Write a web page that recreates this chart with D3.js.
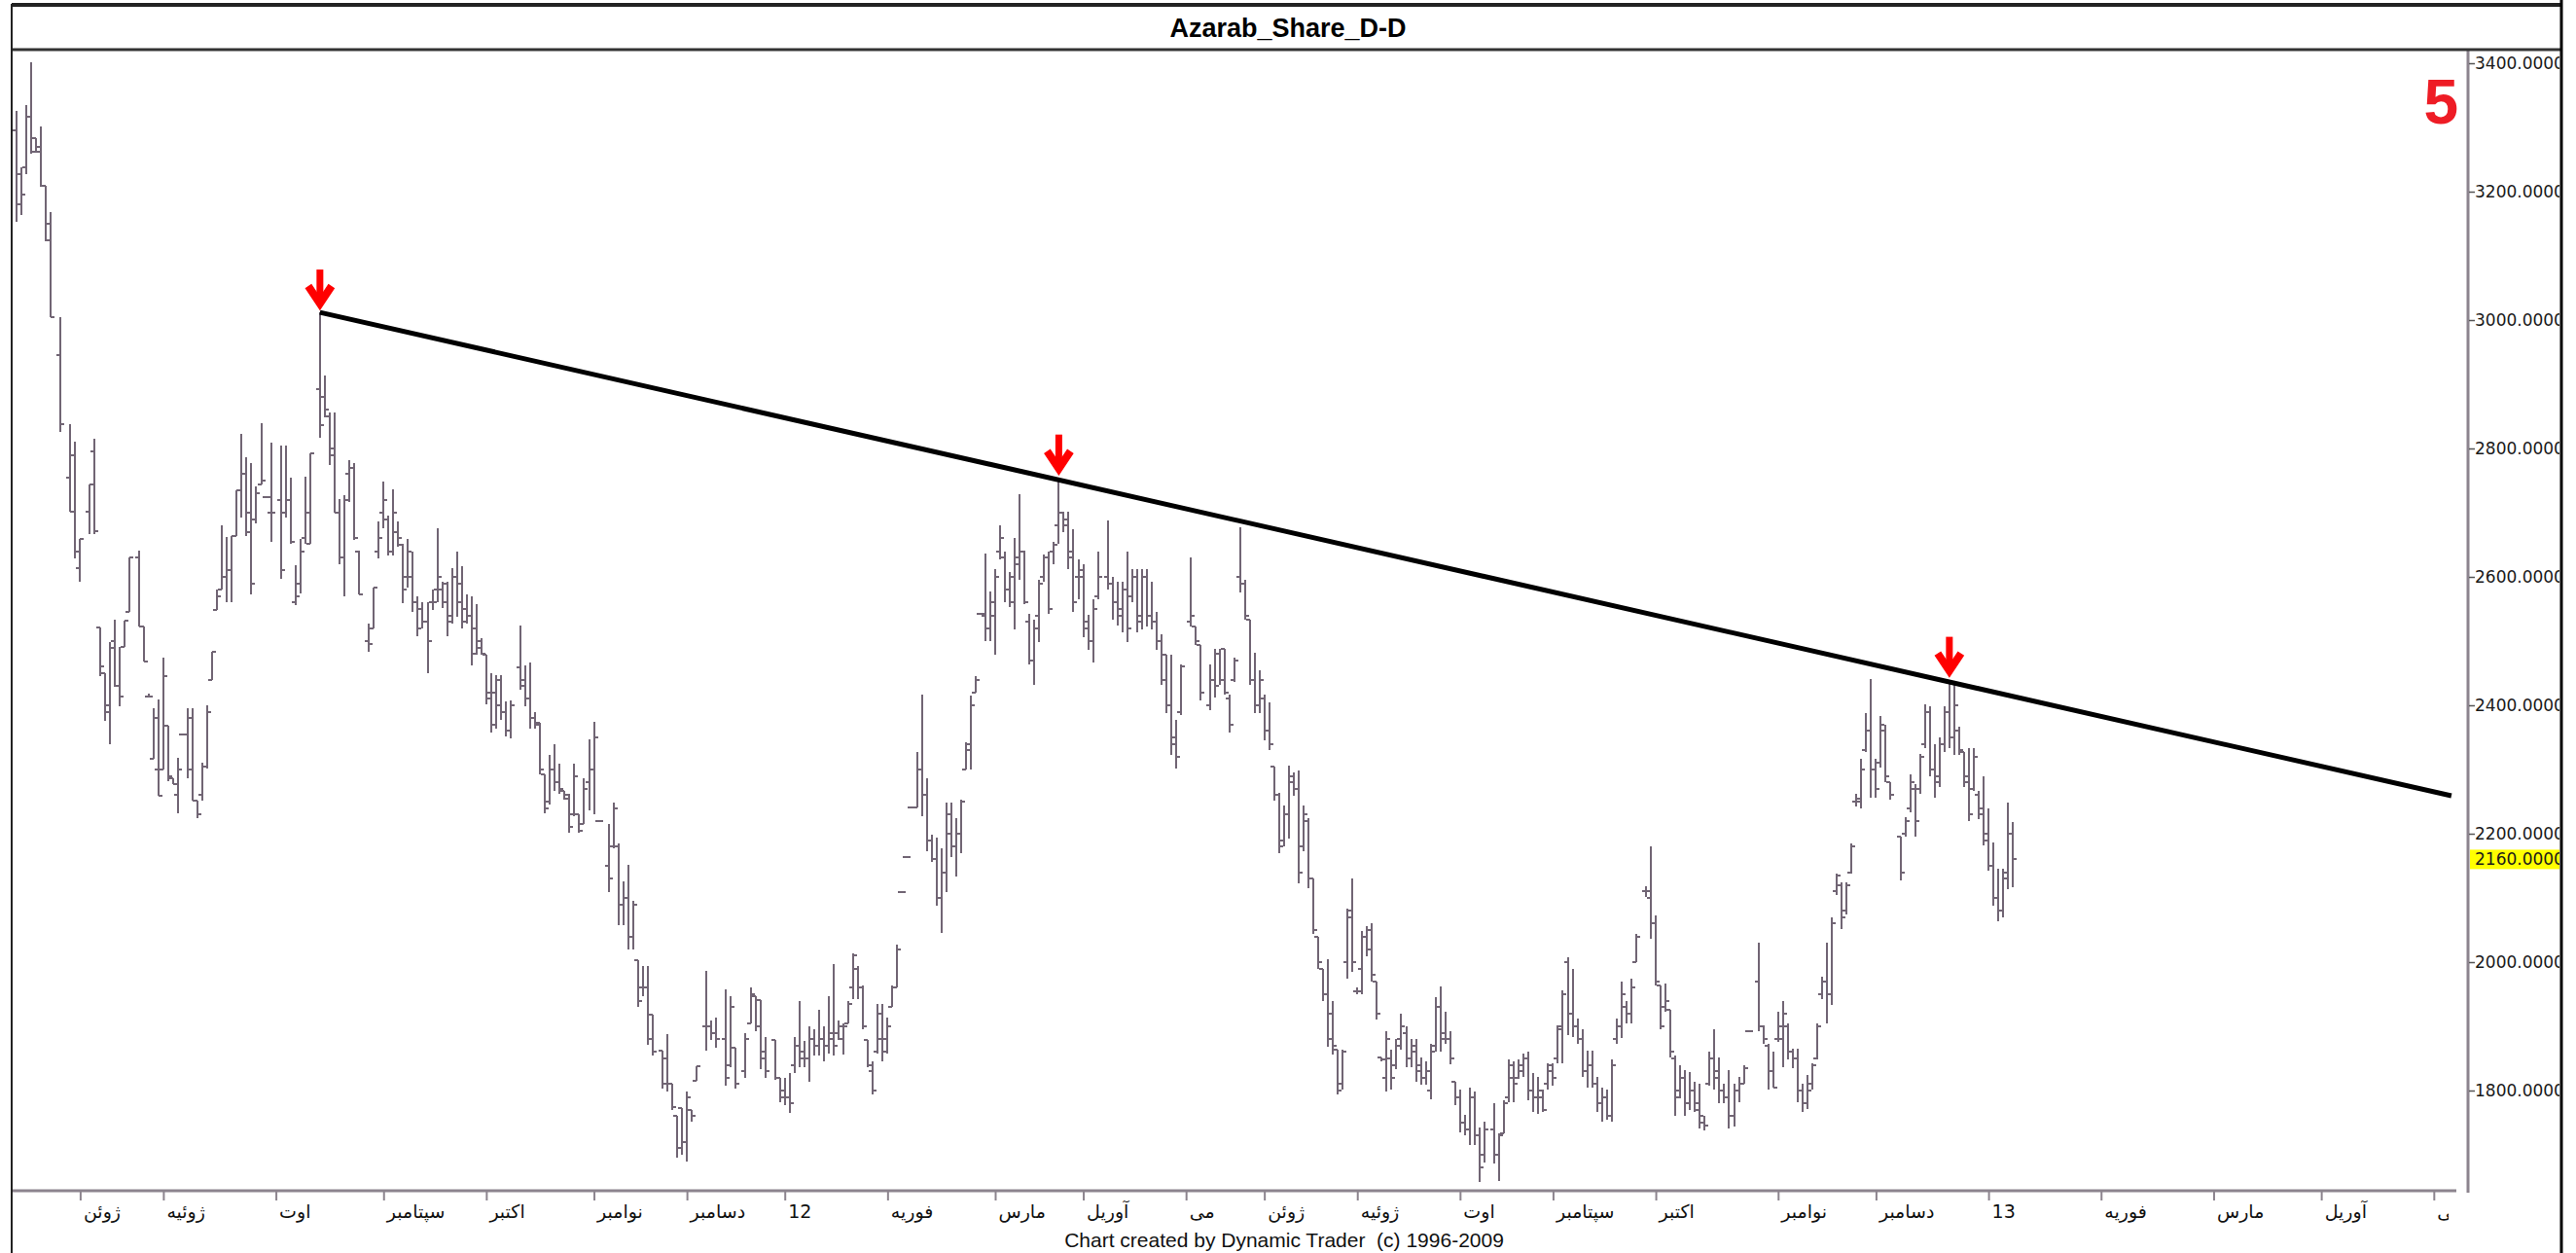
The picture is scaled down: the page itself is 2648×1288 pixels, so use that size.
<!DOCTYPE html>
<html><head><meta charset="utf-8">
<script src="https://cdn.jsdelivr.net/npm/d3@7"></script>
<style>html,body{margin:0;padding:0;background:#fff;overflow:hidden}</style>
</head><body>
<svg id="chart" width="2648" height="1288"></svg>
<script>
const chartTitle = "Azarab_Share_D-D";
const footerText = "Chart created by Dynamic Trader  (c) 1996-2009";
const waveLabel = "5";
const monthTickDays = [13, 30, 53, 75, 96, 118, 137, 157, 178, 200, 218, 239, 255, 274, 295, 314, 335, 360, 380, 403, 426, 449, 471, 494];
const monthLabels = ["ژوئن","ژوئیه","اوت","سپتامبر","اکتبر","نوامبر","دسامبر","12","فوریه","مارس","آوریل","می","ژوئن","ژوئیه","اوت","سپتامبر","اکتبر","نوامبر","دسامبر","13","فوریه","مارس","آوریل","می"];
const priceTicks = [1800, 2000, 2200, 2400, 2600, 2800, 3000, 3200, 3400];
const lastPrice = 2160;
const trendLine = [[62, 3012], [497.6, 2259]];
const arrowDays = [62, 213, 395];
// [day, open, high, low, close]
const ohlc = [
[0,3295,3326,3153,3180],[1,3228,3238,3164,3195],[2,3238,3335,3228,3316],[3,3316,3402,3259,3262],[4,3283,3283,3261,3262],
[5,3270,3301,3208,3209],[6,3209,3209,3123,3125],[7,3150,3168,3004,3004],[9,2945,3004,2826,2838],[11,2754,2838,2702,2702],
[12,2790,2811,2629,2640],[13,2614,2659,2592,2659],[15,2702,2744,2666,2744],[16,2795,2815,2667,2671],[17,2521,2521,2446,2460],
[18,2450,2450,2376,2390],[19,2400,2499,2340,2490],[20,2500,2534,2429,2430],[21,2430,2491,2398,2414],[22,2491,2532,2491,2532],
[23,2546,2630,2546,2630],[25,2630,2641,2522,2522],[26,2522,2522,2468,2468],[27,2414,2418,2412,2414],[28,2317,2396,2317,2380],
[29,2300,2409,2259,2259],[30,2300,2474,2300,2446],[31,2368,2368,2282,2290],[32,2286,2286,2277,2277],[33,2260,2318,2232,2300],
[34,2355,2355,2355,2355],[35,2355,2396,2286,2300],[36,2380,2395,2251,2251],[37,2251,2251,2224,2230],[38,2260,2310,2251,2305],
[39,2305,2400,2302,2390],[40,2439,2483,2439,2483],[41,2548,2580,2548,2570],[42,2581,2680,2581,2600],[43,2600,2662,2561,2610],
[44,2610,2663,2561,2663],[45,2663,2735,2663,2735],[46,2735,2823,2692,2760],[47,2760,2786,2663,2670],[48,2700,2778,2573,2590],
[49,2690,2741,2684,2730],[50,2744,2840,2744,2750],[51,2725,2725,2725,2725],[52,2700,2809,2655,2700],[54,2720,2805,2597,2610],
[55,2700,2805,2692,2720],[56,2720,2754,2651,2655],[57,2560,2618,2556,2570],[58,2590,2659,2575,2640],[59,2660,2756,2651,2700],
[60,2651,2792,2651,2792],[62,2893,3012,2817,2836],[63,2880,2914,2848,2860],[64,2850,2856,2774,2790],[65,2800,2856,2700,2700],
[66,2700,2721,2620,2630],[67,2630,2727,2569,2720],[68,2760,2782,2717,2770],[69,2770,2778,2657,2660],[70,2640,2641,2572,2572],
[72,2500,2528,2484,2495],[73,2520,2584,2520,2584],[74,2640,2686,2629,2660],[75,2700,2749,2676,2720],[76,2690,2696,2633,2640],
[77,2640,2737,2634,2700],[78,2670,2686,2647,2660],[79,2650,2651,2559,2580],[80,2600,2659,2584,2640],[81,2600,2640,2546,2560],
[82,2560,2569,2507,2520],[83,2550,2561,2520,2530],[84,2530,2561,2450,2500],[85,2560,2581,2548,2560],[86,2580,2676,2561,2600],
[87,2580,2593,2551,2590],[88,2560,2593,2507,2530],[89,2540,2614,2528,2600],[90,2600,2639,2538,2560],[91,2590,2616,2520,2530],
[92,2550,2573,2528,2540],[93,2540,2569,2462,2480],[94,2520,2557,2479,2490],[95,2500,2505,2479,2480],[96,2479,2479,2401,2410],
[97,2420,2450,2357,2370],[98,2420,2447,2364,2440],[99,2400,2447,2377,2390],[100,2390,2406,2351,2360],[101,2360,2408,2349,2400],
[103,2459,2524,2425,2430],[104,2440,2462,2398,2410],[105,2410,2466,2364,2380],[106,2380,2389,2364,2370],[107,2372,2372,2292,2300],
[108,2292,2292,2232,2240],[109,2250,2323,2245,2300],[110,2300,2340,2266,2280],[111,2280,2309,2262,2270],[112,2266,2266,2253,2260],
[113,2255,2262,2202,2210],[114,2230,2309,2228,2290],[115,2230,2230,2202,2205],[116,2215,2286,2215,2270],[117,2280,2347,2236,2300],
[118,2300,2374,2230,2350],[119,2219,2219,2219,2219],[121,2150,2215,2109,2130],[122,2180,2249,2177,2240],[123,2180,2185,2058,2090],
[124,2090,2126,2058,2100],[125,2100,2151,2020,2040],[126,2040,2096,2020,2090],[127,2003,2003,1930,1940],[128,1960,1994,1947,1960],
[129,1960,1994,1871,1880],[130,1918,1918,1854,1860],[132,1862,1862,1803,1810],[133,1850,1888,1799,1810],[134,1811,1811,1769,1775],
[135,1760,1760,1695,1710],[136,1773,1773,1700,1720],[137,1720,1799,1690,1790],[138,1770,1770,1752,1760],[139,1815,1838,1815,1838],
[141,1900,1986,1862,1900],[142,1900,1909,1879,1890],[143,1890,1913,1867,1880],[145,1880,1958,1807,1820],[146,1840,1947,1837,1930],
[147,1867,1867,1803,1810],[149,1830,1890,1820,1880],[150,1905,1960,1905,1950],[151,1947,1947,1892,1900],[152,1941,1941,1833,1850],
[153,1860,1883,1820,1830],[155,1879,1879,1816,1820],[156,1820,1820,1782,1790],[157,1800,1820,1777,1790],[158,1790,1828,1765,1780],
[159,1840,1883,1828,1870],[160,1870,1939,1837,1850],[161,1860,1877,1837,1850],[162,1850,1900,1813,1880],[163,1880,1896,1854,1870],
[164,1870,1926,1854,1880],[165,1880,1900,1845,1870],[166,1870,1947,1858,1880],[167,1890,1997,1854,1870],[168,1890,1909,1879,1900],
[169,1880,1905,1856,1900],[170,1905,1939,1905,1935],[171,1960,2014,1943,2010],[172,1990,1994,1943,1960],[173,1960,1964,1896,1900],
[174,1879,1879,1837,1840],[175,1830,1845,1794,1800],[176,1860,1935,1858,1920],[177,1880,1935,1845,1860],[178,1880,1913,1858,1900],
[179,1930,1964,1930,1960],[180,1960,2028,1960,2020],[181,2109,2109,2109,2109],[182,2164,2164,2164,2164],[183,2241,2241,2241,2241],
[184,2241,2328,2241,2300],[185,2300,2417,2228,2260],[186,2260,2287,2173,2190],[187,2190,2198,2156,2160],[188,2160,2194,2088,2100],
[189,2100,2177,2045,2140],[190,2140,2249,2109,2230],[191,2200,2249,2164,2180],[192,2180,2224,2134,2200],[193,2200,2253,2170,2250],
[194,2300,2343,2300,2340],[195,2330,2415,2300,2400],[196,2419,2446,2419,2440],[197,2542,2542,2542,2542],[198,2540,2636,2500,2520],
[199,2520,2578,2500,2560],[200,2540,2612,2479,2600],[201,2640,2680,2627,2660],[202,2630,2639,2561,2580],[203,2580,2608,2553,2600],
[204,2560,2660,2518,2620],[205,2630,2729,2596,2640],[206,2640,2641,2557,2560],[207,2530,2543,2463,2470],[208,2470,2533,2432,2520],
[209,2540,2596,2498,2590],[210,2600,2635,2592,2630],[211,2630,2639,2543,2550],[212,2640,2655,2620,2650],[213,2680,2755,2651,2700],
[214,2700,2702,2670,2680],[215,2690,2702,2612,2630],[216,2640,2674,2545,2560],[217,2600,2627,2565,2610],[218,2600,2620,2506,2520],
[219,2530,2541,2486,2500],[220,2500,2565,2467,2550],[221,2570,2639,2565,2600],[223,2600,2688,2580,2590],[224,2590,2600,2533,2560],
[225,2560,2592,2525,2540],[226,2550,2592,2514,2580],[227,2580,2639,2498,2520],[228,2570,2612,2561,2600],[229,2600,2612,2514,2530],
[230,2540,2612,2518,2600],[231,2600,2612,2522,2540],[232,2540,2592,2518,2530],[233,2530,2545,2486,2500],[234,2500,2510,2432,2440],
[235,2479,2479,2388,2400],[236,2400,2479,2322,2350],[237,2340,2377,2302,2320],[238,2390,2464,2385,2460],[240,2530,2631,2522,2540],
[241,2522,2522,2494,2500],[242,2494,2494,2408,2420],[244,2400,2463,2392,2440],[245,2440,2488,2412,2430],[246,2480,2488,2432,2440],
[247,2488,2488,2416,2420],[248,2410,2416,2357,2370],[249,2440,2475,2436,2470],[250,2600,2678,2576,2590],[251,2590,2596,2533,2540],
[252,2533,2533,2432,2440],[253,2440,2482,2388,2400],[254,2400,2455,2388,2440],[255,2410,2416,2346,2360],[256,2360,2404,2330,2340],
[257,2305,2305,2252,2260],[258,2260,2263,2169,2180],[259,2190,2244,2181,2230],[260,2230,2306,2193,2290],[261,2280,2295,2259,2270],
[262,2270,2299,2122,2140],[263,2180,2244,2173,2230],[264,2220,2224,2115,2130],[265,2130,2130,2044,2050],[266,2040,2040,1989,2000],
[267,1989,1989,1939,1950],[268,1950,2005,1868,1880],[269,1920,1939,1856,1870],[270,1864,1864,1794,1800],[271,1810,1864,1801,1860],
[272,2000,2083,1974,2070],[273,2080,2130,1985,2000],[274,1954,1960,1950,1954],[275,1990,2048,1950,2040],[276,2040,2056,2009,2020],
[277,2050,2060,1970,1980],[278,1970,1970,1911,1920],[279,1852,1852,1845,1848],[280,1820,1892,1798,1880],[281,1850,1864,1801,1820],
[282,1840,1880,1833,1870],[283,1880,1919,1864,1900],[284,1890,1900,1837,1850],[285,1850,1880,1837,1860],[286,1870,1880,1813,1830],
[287,1840,1852,1809,1820],[288,1820,1845,1809,1830],[289,1800,1872,1786,1860],[290,1870,1946,1860,1930],[291,1930,1962,1860,1880],
[292,1890,1923,1872,1880],[293,1880,1892,1841,1850],[294,1813,1813,1778,1790],[295,1790,1801,1735,1750],[296,1750,1762,1731,1740],
[297,1740,1805,1715,1790],[298,1790,1798,1715,1730],[299,1730,1743,1657,1680],[300,1700,1751,1688,1740],[302,1740,1780,1686,1700],
[303,1700,1733,1659,1730],[304,1733,1785,1733,1780],[305,1790,1849,1782,1840],[306,1820,1846,1782,1810],[307,1820,1849,1818,1840],
[308,1830,1857,1821,1850],[309,1850,1860,1785,1800],[310,1800,1827,1766,1790],[311,1790,1821,1763,1800],[312,1790,1802,1766,1770],
[313,1810,1843,1802,1840],[314,1830,1843,1807,1820],[315,1850,1901,1843,1895],[316,1900,1956,1843,1950],[317,2000,2008,1887,1920],
[318,1920,1989,1884,1900],[319,1900,1912,1873,1880],[320,1880,1895,1821,1830],[321,1830,1862,1804,1840],[322,1840,1862,1804,1810],
[323,1810,1821,1766,1780],[324,1780,1804,1752,1790],[325,1790,1802,1755,1760],[326,1760,1849,1752,1840],[327,1880,1912,1873,1900],
[328,1900,1970,1882,1950],[329,1930,1939,1904,1920],[330,1920,1975,1904,1960],[331,2000,2044,2000,2040],[333,2110,2118,2102,2110],
[334,2100,2180,2036,2060],[335,2060,2072,1964,1970],[336,1964,1964,1895,1900],[337,1930,1967,1923,1940],[338,1926,1926,1851,1860],
[339,1850,1854,1760,1790],[340,1800,1840,1788,1820],[341,1820,1832,1760,1780],[342,1780,1829,1769,1800],[343,1800,1813,1766,1770],
[344,1780,1810,1741,1760],[345,1750,1760,1738,1745],[346,1810,1860,1807,1850],[347,1850,1895,1802,1820],[348,1830,1851,1780,1800],
[349,1800,1810,1780,1790],[350,1790,1832,1741,1760],[351,1760,1810,1744,1800],[352,1800,1821,1782,1810],[353,1810,1840,1810,1835],
[354,1893,1893,1893,1893],[356,1970,2031,1893,1900],[357,1900,1901,1873,1880],[358,1870,1873,1802,1830],[359,1830,1860,1804,1805],
[360,1880,1923,1876,1900],[361,1880,1939,1837,1920],[362,1900,1904,1849,1860],[363,1860,1865,1835,1850],[364,1850,1865,1782,1800],
[365,1800,1810,1766,1780],[366,1780,1824,1771,1800],[367,1810,1843,1802,1840],[368,1850,1904,1849,1900],[369,1950,1978,1942,1970],
[370,1970,2030,1904,1950],[371,1950,2069,1934,2060],[372,2110,2138,2105,2135],[373,2120,2124,2052,2070],[374,2080,2124,2074,2120],
[375,2140,2185,2138,2180],[376,2250,2262,2242,2255],[377,2250,2317,2240,2300],[378,2330,2388,2328,2360],[379,2360,2441,2256,2300],
[380,2300,2317,2256,2270],[381,2310,2383,2303,2370],[382,2360,2369,2281,2290],[383,2281,2281,2253,2260],[385,2196,2196,2127,2140],
[386,2200,2226,2196,2220],[387,2240,2292,2234,2280],[388,2270,2278,2196,2220],[389,2270,2325,2262,2320],[390,2340,2402,2333,2390],
[391,2390,2399,2289,2300],[392,2300,2339,2256,2280],[393,2290,2350,2273,2340],[394,2340,2399,2328,2390],[395,2390,2440,2333,2350],
[396,2350,2432,2322,2400],[397,2360,2366,2322,2330],[398,2328,2328,2273,2280],[399,2290,2333,2220,2230],[400,2270,2333,2267,2320],
[401,2260,2267,2223,2230],[402,2240,2289,2182,2190],[403,2200,2240,2143,2150],[404,2150,2187,2088,2100],[405,2100,2146,2063,2080],
[406,2080,2146,2069,2130],[407,2140,2248,2113,2200],[408,2200,2218,2116,2160]
];

const W = 2648, H = 1288;
const plot = {left: 12, right: 2537, top: 52, bottom: 1224};
const x = d3.scaleLinear().domain([0, 500]).range([17, 2532]);
const y = d3.scaleLinear().domain([1800, 3400]).range([1121, 65]);

const svg = d3.select("#chart");
svg.append("rect").attr("width", W).attr("height", H).attr("fill", "#fff");
const defs = svg.append("defs");
defs.append("clipPath").attr("id", "plotClip").append("rect")
  .attr("x", plot.left).attr("y", plot.top).attr("width", plot.right - plot.left).attr("height", plot.bottom - plot.top);
defs.append("clipPath").attr("id", "xLabClip").append("rect")
  .attr("x", 0).attr("y", plot.bottom).attr("width", 2517).attr("height", 60);
defs.append("clipPath").attr("id", "yLabClip").append("rect")
  .attr("x", plot.right).attr("y", 0).attr("width", 2631 - plot.right).attr("height", H);

// title
svg.append("text").attr("x", 1324).attr("y", 38).attr("text-anchor", "middle")
  .attr("font-family", "'Liberation Sans', Arial, sans-serif").attr("font-weight", "bold")
  .attr("font-size", 27).attr("fill", "#000").text(chartTitle);

// OHLC bars
const barColor = "#716574";
const gBars = svg.append("g").attr("clip-path", "url(#plotClip)");
gBars.selectAll("path.bar").data(ohlc).join("path").attr("class", "bar")
  .attr("d", d => {
    const cx = Math.round(x(d[0]));
    const yo = Math.round(y(d[1])), yh = Math.round(y(d[2])), yl = Math.round(y(d[3])), yc = Math.round(y(d[4]));
    const top = Math.min(yh, yl - 1);
    return `M${cx},${top}V${Math.max(yl, top + 2)}M${cx - 4},${yo}H${cx}M${cx},${yc}H${cx + 4}`;
  })
  .attr("fill", "none").attr("stroke", barColor).attr("stroke-width", 2);

// trend line
const gOver = svg.append("g").attr("clip-path", "url(#plotClip)");
gOver.append("path").datum(trendLine)
  .attr("d", d3.line().x(d => x(d[0])).y(d => y(d[1])))
  .attr("stroke", "#000").attr("stroke-width", 5).attr("fill", "none");

// red arrows above the touching highs
const hiByDay = new Map(ohlc.map(d => [d[0], d[2]]));
arrowDays.forEach(dd => {
  const ax = x(dd), tip = y(hiByDay.get(dd)) - 4;
  const g = svg.append("g").attr("transform", `translate(${ax},${tip})`);
  g.append("path").attr("d", "M0,-40V-6").attr("stroke", "#ff0000").attr("stroke-width", 7).attr("fill", "none");
  g.append("path").attr("d", "M-12,-23L0,-5L12,-23").attr("stroke", "#ff0000").attr("stroke-width", 8)
    .attr("fill", "none").attr("stroke-linejoin", "miter");
  g.append("path").attr("d", "M-7,-16L0,0L7,-16Z").attr("fill", "#ff0000");
});

// wave label
svg.append("text").attr("x", 2527).attr("y", 127).attr("text-anchor", "end")
  .attr("font-family", "'Liberation Sans', Arial, sans-serif").attr("font-weight", "bold")
  .attr("font-size", 64).attr("fill", "#ee1c25").text(waveLabel);

// x axis
const axisColor = "#8c848e";
svg.append("line").attr("x1", plot.left).attr("x2", 2525).attr("y1", plot.bottom).attr("y2", plot.bottom)
  .attr("stroke", axisColor).attr("stroke-width", 3);
const xAxis = d3.axisBottom(x).tickValues(monthTickDays).tickSize(9)
  .tickFormat((d, i) => monthLabels[i]);
const gxWrap = svg.append("g").attr("clip-path", "url(#xLabClip)");
const gx = gxWrap.append("g").attr("transform", `translate(0,${plot.bottom + 1})`).call(xAxis);
gx.select(".domain").remove();
gx.selectAll(".tick line").attr("stroke", axisColor).attr("stroke-width", 2);
gx.selectAll(".tick text").attr("x", 3).attr("y", 14).attr("dy", "0.71em").attr("text-anchor", "start")
  .attr("font-family", "Tahoma, 'DejaVu Sans', sans-serif").attr("font-size", 19).attr("fill", "#111");

// y axis
svg.append("line").attr("x1", plot.right).attr("x2", plot.right).attr("y1", plot.top).attr("y2", plot.bottom + 2)
  .attr("stroke", axisColor).attr("stroke-width", 3);
const gyWrap = svg.append("g").attr("clip-path", "url(#yLabClip)");
gyWrap.append("rect").attr("x", plot.right + 2).attr("y", y(lastPrice) - 10).attr("width", 2632 - plot.right - 2).attr("height", 20)
  .attr("fill", "#ffff00");
const yAxis = d3.axisRight(y).tickValues(priceTicks).tickSize(6).tickFormat(d3.format(".4f"));
const gy = gyWrap.append("g").attr("transform", `translate(${plot.right + 1},0)`).call(yAxis);
gy.select(".domain").remove();
gy.selectAll(".tick line").attr("stroke", "#555").attr("stroke-width", 1.5);
gy.selectAll(".tick text").attr("x", 6).attr("font-family", "'DejaVu Sans', Verdana, sans-serif")
  .attr("font-size", 17).attr("fill", "#1a1a1a");
gyWrap.append("text").attr("x", plot.right + 7).attr("y", y(lastPrice)).attr("dy", "0.34em")
  .attr("font-family", "'DejaVu Sans', Verdana, sans-serif").attr("font-size", 17).attr("fill", "#1a1a1a")
  .text(d3.format(".4f")(lastPrice));

// frame lines
svg.append("line").attr("x1", plot.left).attr("x2", 2633).attr("y1", 5).attr("y2", 5).attr("stroke", "#222").attr("stroke-width", 4);
svg.append("line").attr("x1", plot.left).attr("x2", 2633).attr("y1", 51).attr("y2", 51).attr("stroke", "#333").attr("stroke-width", 3);
svg.append("line").attr("x1", plot.left).attr("x2", plot.left).attr("y1", 4).attr("y2", H).attr("stroke", "#222").attr("stroke-width", 2);
svg.append("line").attr("x1", 2633).attr("x2", 2633).attr("y1", 0).attr("y2", H).attr("stroke", "#000").attr("stroke-width", 3);

// footer
svg.append("text").attr("x", 1320).attr("y", 1282).attr("text-anchor", "middle")
  .attr("font-family", "Tahoma, 'Liberation Sans', Arial, sans-serif").attr("font-size", 21).attr("fill", "#111")
  .style("white-space", "pre").text(footerText);
</script>
</body></html>
